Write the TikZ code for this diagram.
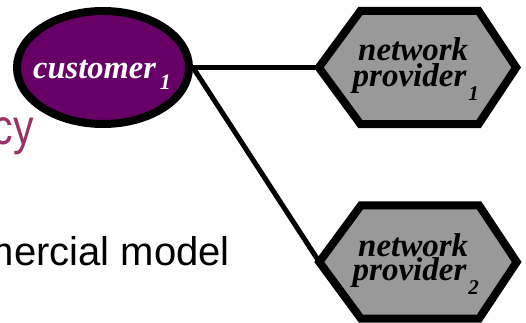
\documentclass[tikz,border=0pt]{standalone}
\usepackage{fontspec}
\setmainfont{Liberation Serif}
\newfontfamily\custfont{Liberation Serif}
\newfontfamily\netfont{Liberation Serif}
\newfontfamily\bodyfont{Liberation Sans}
\usetikzlibrary{shapes.geometric,backgrounds,calc}
\definecolor{custpurple}{HTML}{660066}
\definecolor{hexgray}{HTML}{999999}
\definecolor{titlerose}{HTML}{993366}
\tikzset{
  conn/.style={line width=5pt, draw=black},
  custnode/.style={ellipse, draw=black, line width=8pt, fill=custpurple,
    minimum width=172pt, minimum height=113pt, inner sep=0pt},
  hexframe/.style={rectangle, inner sep=0pt, minimum width=197pt, minimum height=113pt},
  hexpath/.style={draw=black, fill=hexgray, line width=8pt, line join=miter},
  custtext/.style={inner sep=0pt, text=white, font=\custfont\bfseries\itshape\fontsize{32.5}{32.5}\selectfont},
  nettext/.style={inner sep=0pt, text=black, font=\netfont\bfseries\itshape\fontsize{33}{33}\selectfont},
  bodytext/.style={inner sep=0pt, font=\bodyfont\fontsize{40}{40}\selectfont},
}
\begin{document}
\begin{tikzpicture}[x=1pt,y=-1pt]
\useasboundingbox (0,0) rectangle (526,323);
\clip (0,0) rectangle (526,323);

% texts on the left
\node[bodytext, anchor=base east, text=titlerose, font=\bodyfont\fontsize{50}{50}\selectfont] (ttl) at (34,144) {\scalebox{0.82}[1]{cy}};
\node[bodytext, anchor=base east, text=black] (sub) at (230,265) {mercial model};

% nodes
\node[custnode] (c) at (103,67.5) {};
\node[hexframe] (h1) at (417.5,67.5) {};
\node[hexframe] (h2) at (418,262) {};

\begin{scope}[on background layer]
  \draw[conn] (c.east) -- (h1.west);
  \draw[conn] (c.east) -- (h2.west);
  \path[hexpath] (h1.west) -- ($(h1.north)+(-57,0)$) -- ($(h1.north)+(61,0)$) -- (h1.east)
     -- ($(h1.south)+(61,0)$) -- ($(h1.south)+(-57,0)$) -- cycle;
  \path[hexpath] (h2.west) -- ($(h2.north)+(-57,0)$) -- ($(h2.north)+(61,0)$) -- (h2.east)
     -- ($(h2.south)+(61,0)$) -- ($(h2.south)+(-57,0)$) -- cycle;
\end{scope}

% labels
\node[custtext, anchor=base west] (ct) at (33,79) {customer\hspace{4pt}\raisebox{-11pt}{\fontsize{22}{22}\selectfont 1}};
\node[nettext, anchor=base west, text depth=0pt] (n1a) at (358,61) {network};
\node[nettext, anchor=base west, text height=18pt] (n1b) at (352.5,87) {provider\hspace{2pt}\raisebox{-14pt}{\fontsize{21}{21}\selectfont 1}};
\node[nettext, anchor=base west, text depth=0pt] (n2a) at (358,256) {network};
\node[nettext, anchor=base west, text height=18pt] (n2b) at (352.5,280) {provider\hspace{2pt}\raisebox{-14pt}{\fontsize{21}{21}\selectfont 2}};
\end{tikzpicture}
\end{document}
